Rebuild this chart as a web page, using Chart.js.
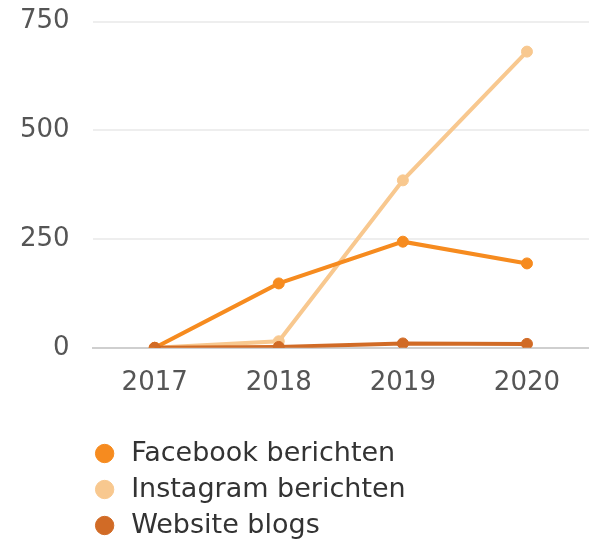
<!DOCTYPE html>
<html>
<head>
<meta charset="utf-8">
<script src="https://cdn.jsdelivr.net/npm/chart.js@4"></script>
<style>
  html, body { margin: 0; padding: 0; background: #fff; overflow: hidden; }
  #wrap { width: 589px; height: 539px; }
</style>
</head>
<body>
<div id="wrap"><canvas id="grafico"></canvas></div>
<script>
// Data
const jaren = ['2017', '2018', '2019', '2020'];
const facebook = [0, 148, 244, 194];
const instagram = [0, 15, 385, 681];
const website = [0, 2, 10, 9];
const yTicks = [0, 250, 500, 750];

const fontFam = '"DejaVu Sans", sans-serif';

// legenda iets verplaatsen: bolletjes onder de as, wat lager dan standaard
const legendShift = {
    id: 'legendShift',
    afterLayout(chart) {
        const lg = chart.legend;
        lg.left -= 10;
        lg.right -= 10;
        lg.top += 20;
        lg.bottom += 20;
    }
};

const lijn = (label, data, kleur, order) => ({
    label: label,
    data: data,
    borderColor: kleur,
    backgroundColor: kleur,
    pointBackgroundColor: kleur,
    pointBorderColor: kleur,
    borderWidth: 4,
    pointRadius: 5.5,
    pointBorderWidth: 1,
    pointHoverRadius: 5.5,
    tension: 0,
    order: order
});

new Chart(document.getElementById('grafico'), {
    type: 'line',
    data: {
        labels: jaren,
        datasets: [
            lijn('Facebook berichten', facebook, '#F68B1F', 1),
            lijn('Instagram berichten', instagram, '#F8C88F', 2),
            lijn('Website blogs', website, '#D16B26', 0)
        ]
    },
    plugins: [legendShift],
    options: {
        responsive: true,
        maintainAspectRatio: false,
        animation: false,
        layout: { autoPadding: false, padding: { top: 0, right: 0, bottom: 10, left: 14 } },
        scales: {
            x: {
                offset: true,
                grid: { display: false },
                border: { display: true, color: '#cfcfcf', width: 2 },
                ticks: { color: '#555', padding: 12, font: { family: fontFam, size: 26 } },
                afterFit: s => { s.paddingLeft = 0; s.paddingRight = 0; }
            },
            y: {
                min: 0,
                max: 750,
                afterBuildTicks: axis => { axis.ticks = yTicks.map(v => ({ value: v })); },
                grid: { color: '#eeeeee', lineWidth: 2, drawTicks: true, tickLength: 17, tickColor: 'rgba(0,0,0,0)' },
                border: { display: false },
                ticks: { color: '#555', padding: 6, font: { family: fontFam, size: 26 } }
            }
        },
        plugins: {
            tooltip: { enabled: false },
            legend: {
                position: 'bottom',
                align: 'start',
                fullSize: false,
                labels: {
                    usePointStyle: true,
                    pointStyle: 'circle',
                    boxWidth: 26,
                    boxHeight: 13,
                    padding: 9,
                    color: '#333',
                    font: { family: fontFam, size: 27 },
                    sort: (a, b) => a.datasetIndex - b.datasetIndex
                }
            }
        }
    }
});
</script>
</body>
</html>
